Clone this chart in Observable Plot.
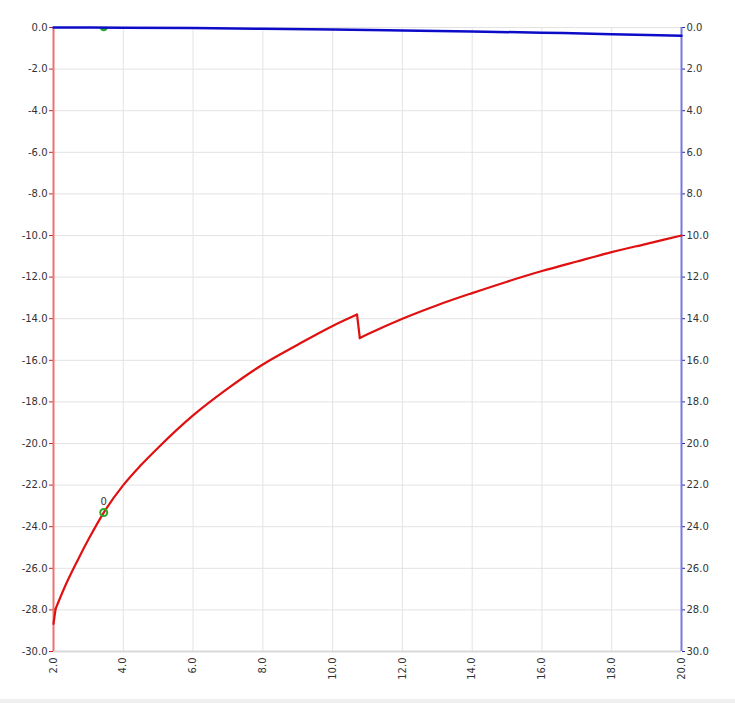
<!DOCTYPE html>
<html>
<head>
<meta charset="utf-8">
<script src="https://cdn.jsdelivr.net/npm/d3@7"></script>
<script src="https://cdn.jsdelivr.net/npm/@observablehq/plot@0.6"></script>
<style>
  html, body { margin: 0; padding: 0; background: #fff; }
  #footer { height: 4px; background: #efefef; }
</style>
</head>
<body>
<div id="chart"></div>
<div id="footer"></div>
<script>
// Red series (left axis), split into segments at the sharp corners
const redX = [2.0, 2.06, 2.3, 2.69, 3.0, 3.44, 4.0, 4.5, 5.0, 6.0, 7.0, 8.0, 9.0, 10.0, 10.7, 10.78, 11.0, 12.0, 13.0, 14.0, 15.0, 16.0, 17.0, 18.0, 19.0, 20.0];
const redY = [-28.67, -27.95, -26.98, -25.62, -24.62, -23.32, -22.0, -21.05, -20.2, -18.65, -17.35, -16.2, -15.25, -14.35, -13.8, -14.93, -14.75, -14.0, -13.35, -12.77, -12.22, -11.71, -11.25, -10.8, -10.4, -10.0];
const redSeg = [0, 1, 1, 1, 1, 1, 1, 1, 1, 1, 1, 1, 1, 1, 1, 3, 3, 3, 3, 3, 3, 3, 3, 3, 3, 3];
// Blue series (right axis, 0 at top, increasing downward)
const blueX = [2, 4, 6, 8, 10, 12, 14, 16, 18, 20];
const blueY = [0, 0.01, 0.03, 0.06, 0.1, 0.14, 0.19, 0.25, 0.32, 0.4];
// Marker
const markX = [3.44];
const markRedY = [-23.32];
const markBlueY = [0];
const markLabel = ["0"];
// Ticks
const xTicks = [2, 4, 6, 8, 10, 12, 14, 16, 18, 20];
const yTicks = d3.range(0, -31, -2);

// Build segments: smooth runs, joined by straight connectors at the corners
const red = [];
redX.forEach((x, i) => {
  if (redSeg[i] !== 0) red.push({x, y: redY[i], z: redSeg[i]});
  if (i + 1 < redX.length && redSeg[i + 1] !== redSeg[i]) {
    red.push({x, y: redY[i], z: redSeg[i] + 0.5});
    red.push({x: redX[i + 1], y: redY[i + 1], z: redSeg[i] + 0.5});
  }
});

const blue = blueX.map((x, i) => ({x, y: -blueY[i]}));
const marks = markX.map((x, i) => ({x, yr: markRedY[i], yb: -markBlueY[i], label: markLabel[i]}));

const chart = Plot.plot({
  width: 735,
  height: 699,
  marginLeft: 53,
  marginRight: 54,
  marginTop: 27,
  marginBottom: 48,
  style: {fontFamily: "DejaVu Sans", fontSize: "10px", color: "#333", background: "#fff"},
  x: {domain: [2, 20]},
  y: {domain: [-30, 0]},
  marks: [
    Plot.gridX(xTicks, {stroke: "#e3e3e3", strokeOpacity: 1}),
    Plot.gridY(yTicks, {stroke: "#e3e3e3", strokeOpacity: 1}),
    Plot.ruleY([-30], {stroke: "#d9d9d9", strokeWidth: 2}),
    Plot.axisX(xTicks, {tickFormat: d => d.toFixed(1), tickRotate: -90, tickSize: 0, tickPadding: 6, fill: "#333", label: null}),
    Plot.axisY(yTicks, {anchor: "left", tickFormat: d => d.toFixed(1), tickSize: 4, tickPadding: 2, stroke: "#d42020", fill: "#333", label: null}),
    Plot.axisY(yTicks, {anchor: "right", tickFormat: d => Math.abs(d).toFixed(1), tickSize: 3, tickPadding: 2, stroke: "#2020c0", fill: "#333", label: null}),
    Plot.ruleX([2], {stroke: "#ee7070", strokeWidth: 2}),
    Plot.ruleX([20], {stroke: "#7878dc", strokeWidth: 2}),
    Plot.dot(marks, {x: "x", y: "yb", r: 3, fill: "#2aaa2a", stroke: "#2aaa2a", clip: "frame"}),
    Plot.line(blue, {x: "x", y: "y", stroke: "#0c0cc8", strokeWidth: 2.5, curve: "monotone-x"}),
    Plot.line(red, {x: "x", y: "y", z: "z", stroke: "#e01010", strokeWidth: 2.2, curve: "monotone-x"}),
    Plot.dot(marks, {x: "x", y: "yr", r: 3.5, stroke: "#2aaa2a", strokeWidth: 2, fill: "none"}),
    Plot.text(marks, {x: "x", y: "yr", text: "label", dy: -11, fill: "#333", fontSize: 10})
  ]
});
document.getElementById("chart").append(chart);
</script>
</body>
</html>
